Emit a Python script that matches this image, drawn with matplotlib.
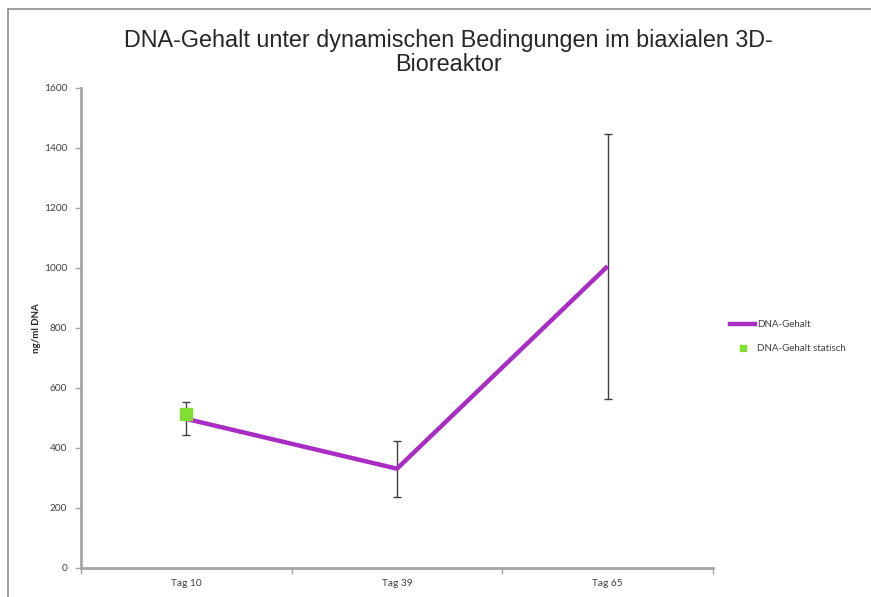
import numpy as np
import matplotlib

matplotlib.use("Agg")
import matplotlib.pyplot as plt
from matplotlib.lines import Line2D

# data
days = ["Tag 10", "Tag 39", "Tag 65"]
dna = [497, 331, 1006]
dna_err = [55, 93, 442]
static_day = ["Tag 10"]
static_dna = [513]

purple = "#a92cc4"
green = "#80e032"
axis_grey = "#a6a6a6"

fig = plt.figure(figsize=(8.71, 5.97), dpi=100)
ax = fig.add_axes([0.093, 0.0486, 0.7256, 0.804])

x = np.arange(len(days))
ax.errorbar(x, dna, yerr=dna_err, fmt="none", ecolor="#404040", elinewidth=1.0,
            capsize=3, capthick=1.0, zorder=2)
ax.plot(x, dna, color=purple, lw=3.2, solid_capstyle="butt", zorder=3)
xs = [days.index(d) for d in static_day]
ax.plot(xs, static_dna, ls="none", marker="s", ms=9, color=green, mec=green, zorder=4)

ax.set_xlim(-0.5, len(days) - 0.5)
ax.set_ylim(0, 1600)
ax.set_yticks(np.arange(0, 1601, 200))
ax.set_xticks(x)
ax.set_xticklabels(days)
ax.set_xticks(np.arange(-0.5, len(days), 1.0), minor=True)
ax.tick_params(axis="x", which="major", length=0, pad=8)
ax.tick_params(axis="x", which="minor", length=4, width=1, color=axis_grey, direction="out")
ax.tick_params(axis="y", length=4, width=1, color=axis_grey, direction="out", pad=6)
for lab in ax.get_xticklabels() + ax.get_yticklabels():
    lab.set_family("Lato")
    lab.set_fontsize(7.3)
    lab.set_color("#404040")

for s in ["top", "right"]:
    ax.spines[s].set_visible(False)
for s in ["left", "bottom"]:
    ax.spines[s].set_color(axis_grey)
    ax.spines[s].set_linewidth(2)

ax.set_ylabel("ng/ml DNA", family="Lato", fontsize=7, fontweight="bold",
              color="#262626", labelpad=2)

fig.text(0.515, 0.912, "DNA-Gehalt unter dynamischen Bedingungen im biaxialen 3D-\nBioreaktor",
         ha="center", va="center", family="Liberation Sans", fontsize=16.8,
         color="#262626", linespacing=1.02)

handles = [
    Line2D([], [], color=purple, lw=3.2),
    Line2D([], [], ls="none", marker="s", ms=5, color=green),
]
leg = fig.legend(handles, ["DNA-Gehalt", "DNA-Gehalt statisch"], loc="center left",
                 bbox_to_anchor=(0.828, 0.436), frameon=False, handlelength=2.6,
                 handletextpad=0.2, labelspacing=1.6,
                 prop={"family": "Lato", "size": 7})
for t in leg.get_texts():
    t.set_color("#404040")

# outer chart border (top and left visible in the reference)
fig.add_artist(Line2D([0.0092, 0.0092], [0.0, 0.985], color="#909090", lw=1.2,
                      transform=fig.transFigure))
fig.add_artist(Line2D([0.0092, 1.0], [0.985, 0.985], color="#909090", lw=1.2,
                      transform=fig.transFigure))

fig.savefig("out.png", dpi=100)
